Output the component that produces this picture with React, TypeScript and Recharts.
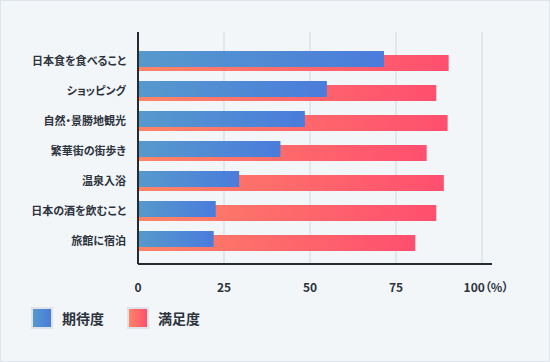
import {
  BarChart,
  Bar,
  XAxis,
  YAxis,
  CartesianGrid,
} from "recharts";

const categories = [
  "日本食を食べること",
  "ショッピング",
  "自然・景勝地観光",
  "繁華街の街歩き",
  "温泉入浴",
  "日本の酒を飲むこと",
  "旅館に宿泊",
];
const expectation = [71.5, 54.9, 48.5, 41.4, 29.4, 22.6, 22.0];
const satisfaction = [90.3, 86.7, 90.0, 83.9, 88.9, 86.7, 80.6];
const xTicks = [0, 25, 50, 75, 100];

const FONT = '"Noto Sans CJK JP", "Noto Sans", sans-serif';
const TEXT = "#2c333d";

const chartData = categories.map((name, i) => ({
  name,
  expectation: expectation[i],
  satisfaction: satisfaction[i],
}));

const XTick = ({ x, y, payload }: any) => {
  const last = payload.value === 100;
  return (
    <text
      x={x + (last ? 4 : 0)}
      y={y}
      dy={10}
      textAnchor="middle"
      fontSize={12}
      fontWeight={700}
      fill={TEXT}
      fontFamily={FONT}
      style={{ fontFeatureSettings: '"palt"' }}
    >
      {last ? "100（%）" : payload.value}
    </text>
  );
};

const YTick = ({ x, y, payload }: any) => (
  <text
    x={x}
    y={y}
    dy={4}
    textAnchor="end"
    fontSize={11}
    fontWeight={700}
    fill={TEXT}
    fontFamily={FONT}
    style={{ fontFeatureSettings: '"palt"' }}
  >
    {payload.value}
  </text>
);

const LegendItem = ({ label, from, to }: { label: string; from: string; to: string }) => (
  <div style={{ display: "flex", alignItems: "center", marginRight: 23 }}>
    <div
      style={{
        width: 18,
        height: 18,
        border: "2px solid #dde3e9",
        background: `linear-gradient(to right, ${from}, ${to})`,
        marginRight: 9,
      }}
    />
    <span
      style={{
        fontSize: 14,
        fontWeight: 700,
        color: TEXT,
        fontFamily: FONT,
        fontFeatureSettings: '"palt"',
      }}
    >
      {label}
    </span>
  </div>
);

// grid lines only at the tick values, not at the padded axis end
const gridX = ({ xAxis, offset }: any) => {
  if (xAxis && typeof xAxis.scale === "function") {
    return xTicks.map((t) => xAxis.scale(t));
  }
  const w = offset.width;
  return xTicks.map((t) => offset.left + (t / 102.9) * w);
};

export default function App() {
  return (
    <div
      style={{
        position: "fixed",
        left: 0,
        top: 0,
        width: 550,
        height: 362,
        boxSizing: "border-box",
        background: "#f3f6f9",
        border: "1px solid #dde3e8",
      }}
    >
      <BarChart
        width={550}
        height={310}
        data={chartData}
        layout="vertical"
        margin={{ top: 32, right: 58, bottom: 16, left: 0 }}
        barSize={16}
        barGap={-20}
        style={{ position: "absolute", left: -1, top: -1 }}
      >
        <defs>
          <linearGradient id="gradBlue" x1="0" y1="0" x2="1" y2="0">
            <stop offset="0%" stopColor="#5699cc" />
            <stop offset="100%" stopColor="#4a7cdc" />
          </linearGradient>
          <linearGradient id="gradRed" x1="0" y1="0" x2="1" y2="0">
            <stop offset="0%" stopColor="#fd8467" />
            <stop offset="100%" stopColor="#ff4f6f" />
          </linearGradient>
        </defs>
        <CartesianGrid
          horizontal={false}
          stroke="#dde2e7"
          strokeWidth={1.5}
          verticalCoordinatesGenerator={gridX}
        />
        <XAxis
          type="number"
          domain={[0, 102.9]}
          ticks={xTicks}
          axisLine={{ stroke: "#262b32", strokeWidth: 2 }}
          tickLine={false}
          tick={<XTick />}
          tickMargin={12}
          height={30}
        />
        <YAxis
          type="category"
          dataKey="name"
          width={138}
          padding={{ top: 14, bottom: 8 }}
          axisLine={{ stroke: "#262b32", strokeWidth: 2 }}
          tickLine={false}
          tick={<YTick />}
          tickMargin={6}
        />
        <Bar dataKey="satisfaction" fill="url(#gradRed)" isAnimationActive={false} />
        <Bar dataKey="expectation" fill="url(#gradBlue)" isAnimationActive={false} />
      </BarChart>
      <div
        style={{
          position: "absolute",
          left: 30,
          top: 306,
          display: "flex",
        }}
      >
        <LegendItem label="期待度" from="#5699cc" to="#4a7cdc" />
        <LegendItem label="満足度" from="#fd8467" to="#ff4f6f" />
      </div>
    </div>
  );
}
